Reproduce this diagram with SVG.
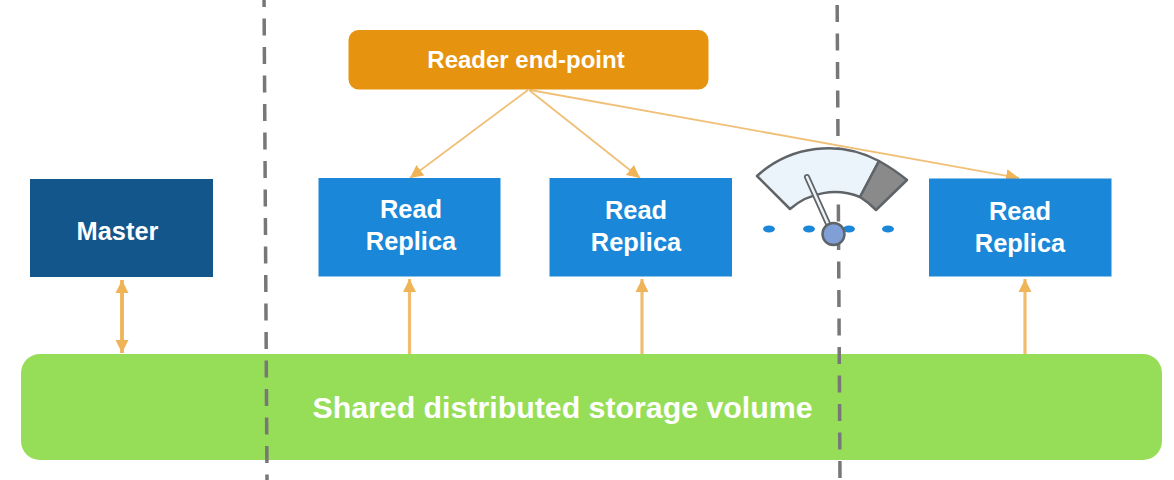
<svg xmlns="http://www.w3.org/2000/svg" width="1174" height="480" viewBox="0 0 1174 480">
<style>
text{font-family:"Liberation Sans",Arial,sans-serif;font-weight:700;fill:#fff;text-anchor:middle}
.t{font-size:24px}
.m{font-size:25.400px}
.rep{fill:#1a87d8}
.dash{stroke:#777;stroke-width:3.500;stroke-dasharray:17 11.500;fill:none}
.thin{stroke:#f0c078;stroke-width:1.800;fill:none}
.thick{stroke:#f0bc70;stroke-width:3.200;fill:none}
.both{stroke:#f0b458;stroke-width:3.800;fill:none}
.head{fill:#f0b458}
.dot{fill:#1a87d8}
</style>
<defs>
<marker id="a" markerUnits="userSpaceOnUse" markerWidth="14" markerHeight="14" refX="13" refY="7" orient="auto-start-reverse"><path d="M0 0.500L13 7L0 13.500Z" class="head"/></marker>
</defs>
<rect width="1174" height="480" fill="#fff"/>
<g id="storage"><rect x="21" y="354" width="1141" height="106" rx="19" fill="#97de58"/><text x="562.500" y="418" font-size="30.300">Shared distributed storage volume</text></g>
<g id="dividers">
<line class="dash" x1="264" y1="-10" x2="267" y2="480"/>
<line class="dash" x1="837" y1="-23.500" x2="840" y2="480"/>
</g>
<g id="connectors">
<path class="both" d="M122 280V353" marker-start="url(#a)" marker-end="url(#a)"/>
<path class="thick" d="M409.500 354V279" marker-end="url(#a)"/>
<path class="thick" d="M642 354V279" marker-end="url(#a)"/>
<path class="thick" d="M1025 354V279" marker-end="url(#a)"/>
<path class="thin" d="M528 90L410 178" marker-end="url(#a)"/>
<path class="thin" d="M529 90L640 178" marker-end="url(#a)"/>
<path class="thin" d="M530 90L1019 178" marker-end="url(#a)"/>
</g>
<g id="reader"><rect x="348.500" y="30" width="360" height="59.500" rx="10" fill="#e6930f"/><text class="t" x="526" y="68">Reader end-point</text></g>
<g id="master"><rect x="30" y="179" width="183" height="98" fill="#12568c"/><text class="m" x="117.500" y="240">Master</text></g>
<g id="replica1"><rect class="rep" x="318.500" y="178" width="182" height="98.500"/><text class="m" x="411" y="218">Read</text><text class="m" x="411" y="250">Replica</text></g>
<g id="replica2"><rect class="rep" x="549.500" y="178" width="182.500" height="98.500"/><text class="m" x="636" y="219">Read</text><text class="m" x="636" y="251">Replica</text></g>
<g id="replica3"><rect class="rep" x="929" y="178.500" width="182.500" height="98"/><text class="m" x="1020" y="220">Read</text><text class="m" x="1020" y="252">Replica</text></g>
<g id="gauge">
<ellipse class="dot" cx="769" cy="229" rx="6" ry="3.500"/><ellipse class="dot" cx="809" cy="229" rx="6" ry="3.500"/><ellipse class="dot" cx="849" cy="229" rx="6" ry="3.500"/><ellipse class="dot" cx="888" cy="229" rx="6" ry="3.500"/>
<path d="M757 176A106 106 0 0 1 879 161L860 197A68 68 0 0 0 790 209Z" fill="#ebf3fb" stroke="#5f6468" stroke-width="2.500" stroke-linejoin="round"/>
<path d="M879 161Q895 170 907 180L876 210Q868 202 860 197Z" fill="#8a8a8a" stroke="#5f6468" stroke-width="2.500" stroke-linejoin="round"/>
<path d="M807 177L829 226" stroke="#5f6468" stroke-width="6" stroke-linecap="round" fill="none"/>
<path d="M807 177L829 226" stroke="#eef2f6" stroke-width="2.500" stroke-linecap="round" fill="none"/>
<circle cx="833.500" cy="234" r="11" fill="#7f9fd6" stroke="#5f6468" stroke-width="2.500"/>
</g>
</svg>
